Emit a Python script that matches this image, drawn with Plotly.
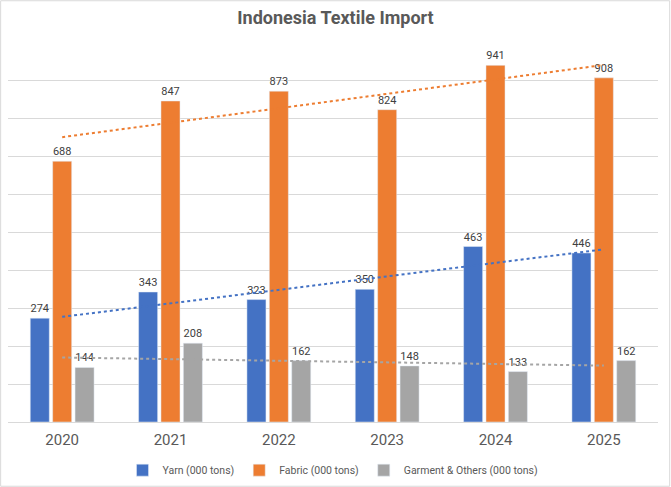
import numpy as np
import plotly.graph_objects as go

years = ["2020", "2021", "2022", "2023", "2024", "2025"]
yarn = [274, 343, 323, 350, 463, 446]
fabric = [688, 847, 873, 824, 941, 908]
garment = [144, 208, 162, 148, 133, 162]

W, H = 671, 487
L, R, T, B = 8, 13, 43, 65
FONT = "Roboto, sans-serif"

series = [
    ("Yarn (000 tons)", yarn, "#4472C4"),
    ("Fabric (000 tons)", fabric, "#ED7D31"),
    ("Garment & Others (000 tons)", garment, "#A5A5A5"),
]

fig = go.Figure()

# bars with value labels
for name, vals, col in series:
    fig.add_trace(go.Bar(x=years, y=vals, name=name, marker_color=col,
                         text=[str(v) for v in vals], textposition="outside",
                         textfont=dict(size=11, color="#404040", family=FONT),
                         cliponaxis=False))

# linear trendlines like excel
xs = np.arange(1, len(years) + 1)
for name, vals, col in series:
    k, c = np.polyfit(xs, vals, 1)
    fig.add_trace(go.Scatter(x=years, y=k * xs + c, mode="lines",
                             line=dict(color=col, width=2, dash="dot"),
                             showlegend=False, hoverinfo="skip"))

pw = W - L - R
ph = H - T - B

fig.update_layout(
    width=W, height=H,
    margin=dict(l=L, r=R, t=T, b=B, autoexpand=False),
    plot_bgcolor="white", paper_bgcolor="white",
    barmode="group", bargap=0.38, bargroupgap=0.15,
    title=dict(text="<b>Indonesia Textile Import</b>", x=0.5, xanchor="center",
               y=1 - 18 / H, yanchor="middle",
               font=dict(size=18, color="#595959", family=FONT)),
    legend=dict(orientation="h", x=0.5, xanchor="center", y=-0.127, yanchor="middle",
                font=dict(size=10.5, color="#595959", family=FONT),
                itemwidth=30, traceorder="normal"),
    shapes=[dict(type="rect", xref="paper", yref="paper",
                 x0=-L / pw + 0.001, x1=1 + R / pw - 0.002,
                 y0=-B / ph + 0.002, y1=1 + T / ph - 0.002,
                 line=dict(color="#D9D9D9", width=1))],
)
fig.update_xaxes(showgrid=False, showline=True, linecolor="#D9D9D9",
                 tickfont=dict(size=15, color="#595959", family=FONT),
                 ticks="", ticklabelstandoff=4, automargin=False)
fig.update_yaxes(range=[0, 1000], dtick=100, showgrid=True, gridcolor="#D9D9D9",
                 showticklabels=False, zeroline=False, automargin=False)

# drop the browser's default body margin so the chart sits at 0,0
fig.write_html("out.html", config={"displayModeBar": False},
               post_script="document.body.style.margin='0';")
